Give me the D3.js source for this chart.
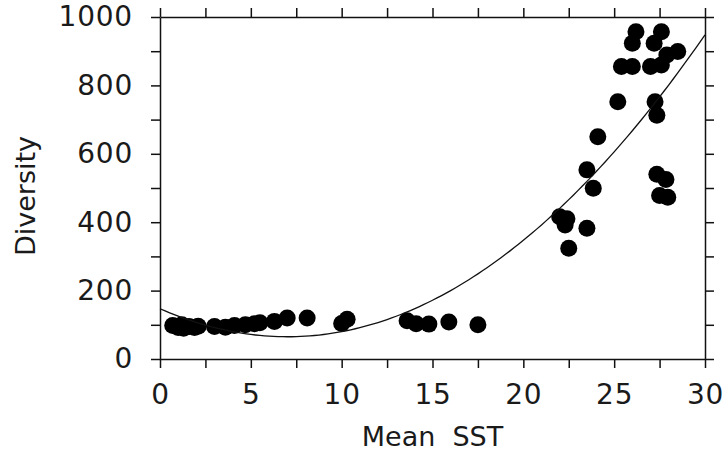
<!DOCTYPE html>
<html>
<head>
<meta charset="utf-8">
<script src="https://cdn.jsdelivr.net/npm/d3@7"></script>
<style>
  body { margin: 0; background: #fff; }
  svg { display: block; }
  .axis text { font-family: "DejaVu Sans", Verdana, sans-serif; font-size: 28px; letter-spacing: 0.8px; fill: #1a1a1a; }
  .axis path, .axis line { stroke: #111; stroke-width: 1.5; }
  .title { font-family: "DejaVu Sans", Verdana, sans-serif; font-size: 27px; fill: #1a1a1a; white-space: pre; }
</style>
</head>
<body>
<svg id="chart"></svg>
<script>
// Data: mean SST (x) vs diversity (y)
const sst = [
  0.7, 1.0, 1.3, 1.6, 1.9, 2.1, 1.2,
  3.0, 3.6, 4.1, 4.7, 5.2, 5.5,
  6.3, 7.0, 8.1, 10.0, 10.3,
  13.6, 14.1, 14.8, 15.9, 17.5,
  22.0, 22.4, 22.3, 22.5, 23.5, 23.5, 23.85, 24.1,
  25.2, 25.4, 26.0, 26.0, 26.2, 27.0, 27.2, 27.6, 27.6, 27.9, 28.5,
  27.25, 27.35, 27.35, 27.85, 27.5, 27.95
];
const diversity = [
  98, 92, 90, 95, 92, 96, 100,
  95, 93, 98, 100, 103, 106,
  110, 120, 120, 104, 116,
  112, 103, 102, 108, 100,
  416, 410, 392, 324, 382, 553, 499, 650,
  752, 855, 855, 923, 957, 855, 923, 957, 860, 889, 899,
  752, 713, 540, 525, 478, 473
];

// Quadratic fit drawn in the figure: y = c0 + c1*x + c2*x^2
const fitCoef = [147, -23.4, 1.67];

const xTicks = d3.range(0, 30.01, 2.5);
const yTicks = d3.range(0, 1001, 100);

const width = 723, height = 451;
const plot = { left: 160, right: 705, top: 17, bottom: 359 };

const svg = d3.select("#chart")
    .attr("width", width)
    .attr("height", height);

const x = d3.scaleLinear().domain([0, 30]).range([plot.left, plot.right]);
const y = d3.scaleLinear().domain([0, 1000]).range([plot.bottom, plot.top]);

// Bottom axis
svg.append("g")
    .attr("class", "axis")
    .attr("transform", `translate(0,${plot.bottom})`)
    .call(d3.axisBottom(x).tickValues(xTicks).tickSize(9).tickSizeOuter(0).tickPadding(16)
        .tickFormat(d => d % 5 === 0 ? d : ""));

// Left axis
svg.append("g")
    .attr("class", "axis")
    .attr("transform", `translate(${plot.left},0)`)
    .call(d3.axisLeft(y).tickValues(yTicks).tickSize(9).tickSizeOuter(0).tickPadding(18)
        .tickFormat(d => d % 200 === 0 ? d : ""));

// Top and right axes, ticks only
svg.append("g")
    .attr("class", "axis")
    .attr("transform", `translate(0,${plot.top})`)
    .call(d3.axisTop(x).tickValues(xTicks).tickSize(9).tickSizeOuter(0).tickFormat(""));

svg.append("g")
    .attr("class", "axis")
    .attr("transform", `translate(${plot.right},0)`)
    .call(d3.axisRight(y).tickValues(yTicks).tickSize(9).tickSizeOuter(0).tickFormat(""));

// Axis titles
svg.append("text")
    .attr("class", "title")
    .attr("x", (plot.left + plot.right) / 2)
    .attr("y", 446)
    .attr("text-anchor", "middle")
    .text("Mean  SST");

svg.append("text")
    .attr("class", "title")
    .attr("transform", "translate(35,196) rotate(-90)")
    .attr("text-anchor", "middle")
    .text("Diversity");

// Dots
svg.append("g")
  .selectAll("circle")
  .data(sst.map((v, i) => ({ sst: v, div: diversity[i] })))
  .enter().append("circle")
    .attr("cx", d => x(d.sst))
    .attr("cy", d => y(d.div))
    .attr("r", 8.5)
    .attr("fill", "#000");

// Fit curve
const fit = v => fitCoef[0] + fitCoef[1] * v + fitCoef[2] * v * v;
const curveX = d3.range(0, 30.001, 0.25);
svg.append("path")
    .datum(curveX)
    .attr("fill", "none")
    .attr("stroke", "#111")
    .attr("stroke-width", 1.3)
    .attr("d", d3.line().x(d => x(d)).y(d => y(fit(d))));
</script>
</body>
</html>
